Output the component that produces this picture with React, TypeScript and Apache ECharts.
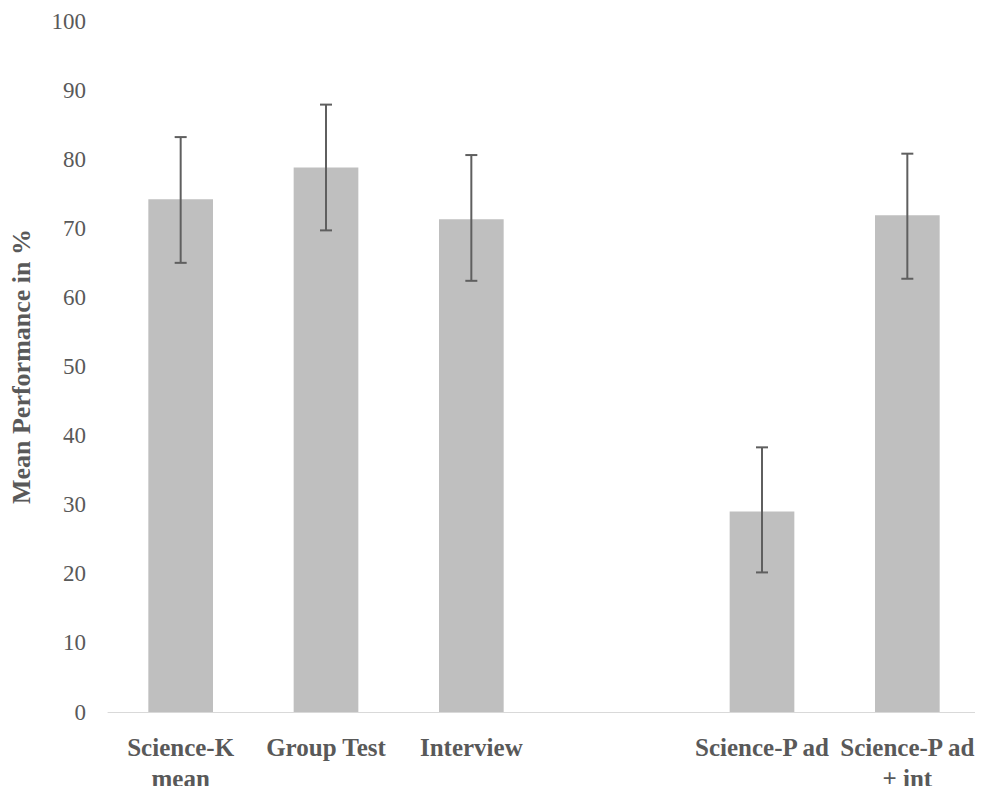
import React, { useEffect, useRef } from "react";
import * as echarts from "echarts";

const categories = ["Science-K\nmean", "Group Test", "Interview", "", "Science-P ad", "Science-P ad\n+ int"];
const means: (number | null)[] = [74.2, 78.8, 71.3, null, 29.0, 71.9];
const errLow: (number | null)[] = [65.0, 69.7, 62.4, null, 20.2, 62.7];
const errHigh: (number | null)[] = [83.2, 87.9, 80.6, null, 38.3, 80.8];
const yTicks = { min: 0, max: 100, interval: 10 };

const FONT = "'Palatino Linotype', 'Book Antiqua', Palatino, 'Liberation Serif', serif";
const TEXT = "#595959";

export default function App() {
  const ref = useRef<HTMLDivElement>(null);
  useEffect(() => {
    if (!ref.current) return;
    const chart = echarts.init(ref.current, null, { renderer: "svg" });
    const errData = categories
      .map((_, i) => (errLow[i] == null ? null : [i, errLow[i], errHigh[i]]))
      .filter((d) => d !== null);
    chart.setOption({
      animation: false,
      backgroundColor: "#ffffff",
      grid: { left: 106, right: 3, top: 21, bottom: 81, containLabel: false },
      xAxis: {
        type: "category",
        data: categories,
        axisLine: { show: true, lineStyle: { color: "#d9d9d9", width: 1 } },
        axisTick: { show: false },
        axisLabel: {
          interval: 0,
          margin: 20,
          color: TEXT,
          fontFamily: FONT,
          fontWeight: "bold",
          fontSize: 25,
          lineHeight: 31,
        },
      },
      yAxis: {
        type: "value",
        min: yTicks.min,
        max: yTicks.max,
        interval: yTicks.interval,
        name: "Mean Performance in %",
        nameLocation: "middle",
        nameGap: 74,
        nameRotate: 90,
        nameTextStyle: { color: TEXT, fontFamily: FONT, fontWeight: "bold", fontSize: 26 },
        axisLine: { show: false },
        axisTick: { show: false },
        splitLine: { show: false },
        axisLabel: { color: TEXT, fontFamily: FONT, fontSize: 23, margin: 22 },
      },
      series: [
        {
          type: "bar",
          data: means,
          barWidth: "44.5%",
          itemStyle: { color: "#bfbfbf" },
          z: 2,
        },
        {
          type: "custom",
          z: 3,
          data: errData,
          renderItem: (params: any, api: any) => {
            const x = api.value(0);
            const lo = api.coord([x, api.value(1)]);
            const hi = api.coord([x, api.value(2)]);
            const half = 6;
            const style = { stroke: "#5f5f5f", lineWidth: 2 };
            return {
              type: "group",
              children: [
                { type: "line", shape: { x1: hi[0], y1: hi[1], x2: lo[0], y2: lo[1] }, style },
                { type: "line", shape: { x1: hi[0] - half, y1: hi[1], x2: hi[0] + half, y2: hi[1] }, style },
                { type: "line", shape: { x1: lo[0] - half, y1: lo[1], x2: lo[0] + half, y2: lo[1] }, style },
              ],
            };
          },
        },
      ],
    });
    return () => chart.dispose();
  }, []);
  return <div ref={ref} style={{ width: 983, height: 794, margin: -8 }} />;
}
